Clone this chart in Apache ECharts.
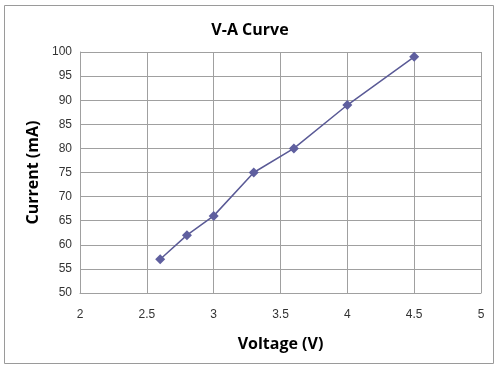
<!DOCTYPE html>
<html><head><meta charset="utf-8">
<script src="https://cdn.jsdelivr.net/npm/echarts@6/dist/echarts.min.js"></script>
<style>html,body{margin:0;padding:0;background:#fff}#c{width:500px;height:369px}</style>
</head><body><div id="c"></div>
<script>
const voltage = [2.6, 2.8, 3.0, 3.3, 3.6, 4.0, 4.5];
const current = [57, 62, 66, 75, 80, 89, 99];
const titleText = 'V-A Curve';
const xName = 'Voltage (V)';
const yName = 'Current (mA)';

const chart = echarts.init(document.getElementById('c'), null, {renderer: 'canvas'});
chart.setOption({
  animation: false,
  backgroundColor: '#fff',
  graphic: [{type: 'rect', shape: {x: 4.5, y: 5.5, width: 489, height: 358}, style: {fill: 'none', stroke: '#9a9a9a', lineWidth: 1}}],
  title: {text: titleText, left: 'center', top: 17, textStyle: {fontFamily: 'Open Sans', fontWeight: 'bold', fontSize: 16, color: '#000'}},
  grid: {left: 80, right: 19, top: 52, bottom: 76},
  xAxis: {
    type: 'value', min: 2, max: 5, interval: 0.5,
    name: xName, nameLocation: 'middle', nameGap: 43,
    nameTextStyle: {fontFamily: 'Open Sans', fontWeight: 'bold', fontSize: 16, color: '#000'},
    axisLine: {show: true, lineStyle: {color: '#a0a0a0'}},
    axisTick: {show: false},
    axisLabel: {fontFamily: 'Liberation Sans', fontSize: 12, color: '#333', margin: 16},
    splitLine: {show: true, lineStyle: {color: '#a0a0a0', width: 1}}
  },
  yAxis: {
    type: 'value', min: 50, max: 100, interval: 5,
    name: yName, nameLocation: 'middle', nameGap: 39,
    nameTextStyle: {fontFamily: 'Open Sans', fontWeight: 'bold', fontSize: 16, color: '#000'},
    axisLine: {show: true, lineStyle: {color: '#a0a0a0'}},
    axisTick: {show: false},
    axisLabel: {fontFamily: 'Liberation Sans', fontSize: 12, color: '#333', margin: 8},
    splitLine: {show: true, lineStyle: {color: '#a0a0a0', width: 1}}
  },
  series: [{
    type: 'line',
    data: voltage.map((v, i) => [v, current[i]]),
    symbol: 'diamond', symbolSize: 10,
    lineStyle: {color: '#5a5a96', width: 1.5},
    itemStyle: {color: '#5f5f9f'}
  }]
});
</script></body></html>
